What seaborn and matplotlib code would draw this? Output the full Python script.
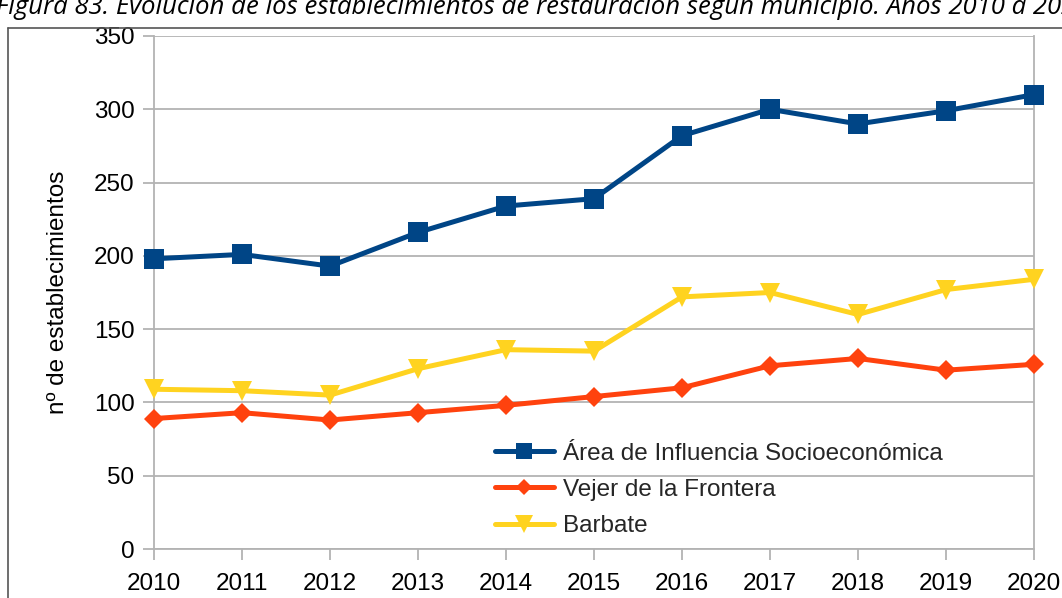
import matplotlib
matplotlib.use("Agg")
import matplotlib.pyplot as plt
from matplotlib.lines import Line2D
import seaborn as sns
import pandas as pd

years = [2010, 2011, 2012, 2013, 2014, 2015, 2016, 2017, 2018, 2019, 2020]
area_influencia = [198, 201, 193, 216, 234, 239, 282, 300, 290, 299, 310]
vejer = [89, 93, 88, 93, 98, 104, 110, 125, 130, 122, 126]
barbate = [109, 108, 105, 123, 136, 135, 172, 175, 160, 177, 184]

series_names = ["Área de Influencia Socioeconómica", "Vejer de la Frontera", "Barbate"]
series_values = [area_influencia, vejer, barbate]
y_ticks = [0, 50, 100, 150, 200, 250, 300, 350]

title = ("Figura 83. Evolución de los establecimientos de restauración "
         "según municipio. Años 2010 a 2020")
y_label = "nº de establecimientos"

colors = {"Área de Influencia Socioeconómica": "#004586",
          "Vejer de la Frontera": "#ff420e",
          "Barbate": "#ffd320"}
markers = {"Área de Influencia Socioeconómica": "s",
           "Vejer de la Frontera": "D",
           "Barbate": "v"}
msizes = {"Área de Influencia Socioeconómica": 14,
          "Vejer de la Frontera": 10,
          "Barbate": 15}

df = pd.concat(
    [pd.DataFrame({"year": years, "value": vals, "serie": name})
     for name, vals in zip(series_names, series_values)],
    ignore_index=True,
)

sns.set_theme(style="white")
plt.rcParams["font.family"] = ["Liberation Sans", "DejaVu Sans"]

fig = plt.figure(figsize=(10.62, 5.98), dpi=100)
ax = fig.add_axes([154 / 1062, 1 - 549 / 598, 880 / 1062, 513 / 598])

grid_col = "#b3b3b3"
fs = 17.5
for name in series_names:
    sub = df[df["serie"] == name]
    sns.lineplot(data=sub, x="year", y="value", ax=ax, color=colors[name],
                 marker=markers[name], markersize=msizes[name],
                 markeredgewidth=0, linewidth=3.6, label=name,
                 clip_on=False, zorder=3)

ax.set_xlim(2010, 2020)
ax.set_ylim(0, 350)
ax.set_yticks(y_ticks)
ax.set_xticks(years)
ax.set_xticklabels([str(y) for y in years])
ax.yaxis.grid(True, color=grid_col, linewidth=1.3)
ax.xaxis.grid(False)
ax.set_xlabel("")
ax.set_ylabel(y_label, fontsize=fs, color="#000000", labelpad=18)

for side in ["left", "bottom", "right"]:
    ax.spines[side].set_visible(True)
    ax.spines[side].set_color(grid_col)
    ax.spines[side].set_linewidth(1.3)
ax.spines["top"].set_visible(False)

ax.tick_params(axis="both", which="major", direction="out", color=grid_col,
               width=1.3, labelsize=fs, labelcolor="#000000")
ax.tick_params(axis="y", length=8, pad=6)
ax.tick_params(axis="x", length=8, pad=9)
ax.tick_params(left=True, bottom=True)

handles = [Line2D([0], [0], color=colors[n], marker=markers[n],
                  markersize=msizes[n] * 0.85, markeredgewidth=0,
                  linewidth=3.6) for n in series_names]
leg = ax.legend(handles, series_names, loc="upper left",
                bbox_to_anchor=(0.387, 0.207), frameon=False, fontsize=fs,
                handlelength=2.45, handletextpad=0.35, labelspacing=0.58,
                borderpad=0, borderaxespad=0)

# outer frame of the figure panel
frame_col = "#555555"
fig.add_artist(Line2D([8 / 1062, 1.0], [1 - 28 / 598, 1 - 28 / 598],
                      transform=fig.transFigure, color=frame_col, lw=1.2))
fig.add_artist(Line2D([8 / 1062, 8 / 1062], [0, 1 - 28 / 598],
                      transform=fig.transFigure, color=frame_col, lw=1.2))

fig.text(-4 / 1062, 1 - 14 / 598, title, fontsize=18.5, fontstyle="italic",
         family=["Open Sans", "DejaVu Sans"], ha="left", va="baseline",
         color="#000000")

fig.savefig("out.png", dpi=100)
